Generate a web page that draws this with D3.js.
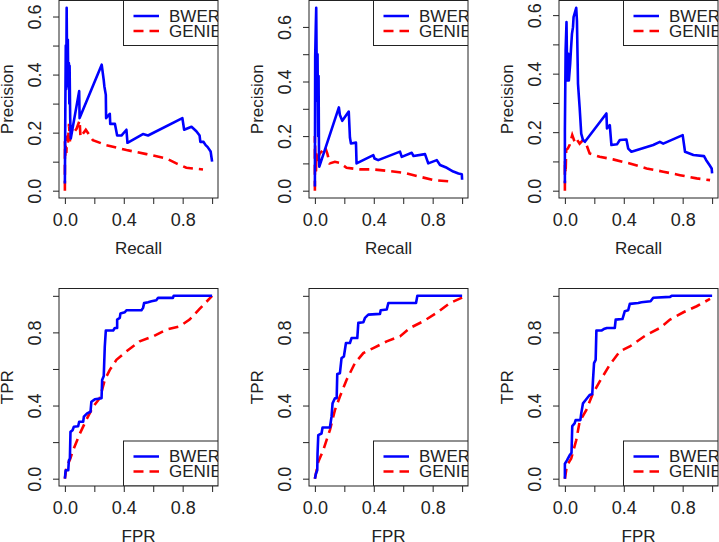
<!DOCTYPE html>
<html lang="en">
<head>
<meta charset="UTF-8">
<title>BWER vs GENIE</title>
<style>
  body { margin: 0; background: #fff; }
  svg { display: block; font-family: "Liberation Sans", Arial, sans-serif; }
  .axis path.domain { display: none; }
  .axis line { stroke: #222; }
  .axis text { fill: #222; font-size: 18px; font-family: "Liberation Sans", Arial, sans-serif; }
  .frame { fill: none; stroke: #222; stroke-width: 1; }
  .title { fill: #222; font-size: 17px; text-anchor: middle; }
  .bwer { fill: none; stroke: #0000ff; stroke-width: 2.6; stroke-linejoin: round; }
  .genie { fill: none; stroke: #ff0000; stroke-width: 2.6; stroke-dasharray: 10,6; }
  .legend rect { fill: #fff; stroke: #222; }
  .legend text { font-size: 17px; fill: #222; }
</style>
</head>
<body>
<svg width="719" height="542"></svg>

<script src="https://d3js.org/d3.v7.min.js"></script>
<script>
  // precision / recall curves, [recall, precision]
  const prBwer1 = [[0,0.025],[0.003,0.28],[0.006,0.5],[0.009,0.35],[0.012,0.63],[0.016,0.37],[0.02,0.52],[0.023,0.36],[0.027,0.44],[0.03,0.3],[0.032,0.43],[0.036,0.25],[0.04,0.18],[0.097,0.343],[0.1,0.25],[0.25,0.434],[0.264,0.38],[0.268,0.36],[0.278,0.33],[0.28,0.25],[0.305,0.265],[0.308,0.23],[0.34,0.23],[0.355,0.19],[0.384,0.19],[0.418,0.21],[0.425,0.165],[0.53,0.195],[0.565,0.19],[0.798,0.25],[0.81,0.21],[0.86,0.22],[0.893,0.205],[0.915,0.19],[0.92,0.168],[0.942,0.168],[0.956,0.157],[0.97,0.15],[0.99,0.135],[1.0,0.1]];
  const prGenie1 = [[0,0],[0,0.17],[0.003,0.12],[0.006,0.16],[0.01,0.13],[0.015,0.19],[0.02,0.16],[0.028,0.23],[0.034,0.17],[0.04,0.225],[0.056,0.197],[0.08,0.214],[0.1,0.242],[0.106,0.185],[0.142,0.21],[0.19,0.174],[0.28,0.157],[0.418,0.14],[0.554,0.126],[0.69,0.111],[0.757,0.094],[0.825,0.079],[0.938,0.073]];

  const prBwer2 = [[0,0.015],[0.002,0.49],[0.006,0.6],[0.009,0.67],[0.014,0.33],[0.018,0.5],[0.022,0.2],[0.025,0.42],[0.028,0.12],[0.03,0.088],[0.163,0.305],[0.17,0.277],[0.186,0.256],[0.23,0.29],[0.238,0.195],[0.245,0.173],[0.279,0.176],[0.283,0.10],[0.397,0.13],[0.405,0.118],[0.43,0.112],[0.578,0.143],[0.59,0.124],[0.658,0.139],[0.67,0.127],[0.748,0.134],[0.77,0.10],[0.828,0.112],[0.85,0.094],[0.896,0.084],[0.94,0.07],[0.975,0.063],[0.998,0.06],[1.0,0.04]];
  const prGenie2 = [[0,0],[0,0.2],[0.007,0.06],[0.01,0.137],[0.015,0.1],[0.02,0.12],[0.034,0.137],[0.057,0.149],[0.068,0.161],[0.084,0.137],[0.09,0.124],[0.1,0.1],[0.136,0.106],[0.17,0.102],[0.215,0.084],[0.306,0.078],[0.397,0.078],[0.487,0.073],[0.6,0.066],[0.714,0.051],[0.805,0.039],[0.94,0.033]];

  const prBwer3 = [[0,0.025],[0,0.207],[0.005,0.48],[0.011,0.576],[0.016,0.377],[0.023,0.468],[0.027,0.377],[0.036,0.434],[0.041,0.48],[0.048,0.536],[0.055,0.559],[0.059,0.593],[0.077,0.625],[0.082,0.58],[0.089,0.366],[0.1,0.286],[0.111,0.195],[0.123,0.173],[0.136,0.167],[0.282,0.264],[0.286,0.213],[0.305,0.224],[0.316,0.156],[0.355,0.159],[0.373,0.173],[0.418,0.175],[0.43,0.144],[0.452,0.133],[0.6,0.156],[0.645,0.167],[0.668,0.161],[0.8,0.19],[0.816,0.133],[0.873,0.122],[0.945,0.118],[0.959,0.105],[0.982,0.0875],[0.997,0.076],[1.0,0.059]];
  const prGenie3 = [[0,0],[0,0.105],[0.005,0.06],[0.009,0.139],[0.02,0.144],[0.032,0.156],[0.05,0.19],[0.066,0.167],[0.077,0.178],[0.1,0.161],[0.123,0.173],[0.145,0.159],[0.168,0.127],[0.236,0.116],[0.327,0.107],[0.441,0.093],[0.555,0.076],[0.668,0.065],[0.782,0.053],[0.895,0.042],[0.986,0.036]];

  // ROC curves, [FPR, TPR]
  const rocBwer1 = [[0,0],[0.005,0.046],[0.023,0.046],[0.027,0.1],[0.034,0.11],[0.038,0.256],[0.052,0.265],[0.061,0.284],[0.09,0.287],[0.097,0.311],[0.124,0.311],[0.129,0.339],[0.151,0.357],[0.174,0.366],[0.18,0.421],[0.203,0.434],[0.249,0.44],[0.253,0.54],[0.264,0.562],[0.271,0.723],[0.278,0.81],[0.328,0.81],[0.339,0.824],[0.355,0.824],[0.355,0.87],[0.373,0.879],[0.377,0.903],[0.407,0.91],[0.418,0.921],[0.52,0.921],[0.531,0.934],[0.538,0.96],[0.565,0.965],[0.588,0.97],[0.621,0.976],[0.633,0.989],[0.734,0.989],[0.739,1.0],[1.0,1.0]];
  const rocGenie1 = [[0,0],[0.011,0.064],[0.034,0.104],[0.056,0.156],[0.102,0.247],[0.147,0.324],[0.192,0.394],[0.237,0.44],[0.271,0.54],[0.305,0.595],[0.35,0.65],[0.418,0.696],[0.508,0.751],[0.599,0.778],[0.689,0.815],[0.78,0.833],[0.847,0.87],[0.915,0.928],[1.0,1.0]];

  const rocBwer2 = [[0,0],[0.007,0.027],[0.016,0.046],[0.018,0.137],[0.023,0.238],[0.045,0.247],[0.052,0.28],[0.102,0.28],[0.113,0.339],[0.12,0.412],[0.136,0.44],[0.148,0.44],[0.152,0.573],[0.17,0.577],[0.181,0.659],[0.197,0.668],[0.211,0.742],[0.238,0.742],[0.249,0.769],[0.288,0.769],[0.295,0.852],[0.329,0.855],[0.34,0.879],[0.363,0.897],[0.442,0.901],[0.447,0.921],[0.488,0.925],[0.499,0.961],[0.687,0.961],[0.696,1.0],[1.0,1.0]];
  const rocGenie2 = [[0,0],[0.023,0.092],[0.057,0.156],[0.102,0.266],[0.136,0.375],[0.17,0.449],[0.215,0.54],[0.272,0.632],[0.329,0.687],[0.397,0.714],[0.488,0.751],[0.578,0.778],[0.646,0.824],[0.737,0.861],[0.828,0.907],[0.918,0.961],[1.0,0.99]];

  const rocBwer3 = [[0,0],[0,0.082],[0.014,0.1],[0.032,0.128],[0.045,0.141],[0.048,0.229],[0.05,0.287],[0.066,0.302],[0.073,0.32],[0.105,0.32],[0.111,0.357],[0.123,0.412],[0.141,0.43],[0.168,0.458],[0.186,0.463],[0.191,0.54],[0.198,0.632],[0.209,0.65],[0.214,0.81],[0.248,0.81],[0.264,0.818],[0.286,0.824],[0.339,0.824],[0.345,0.87],[0.391,0.873],[0.407,0.916],[0.43,0.921],[0.441,0.956],[0.498,0.961],[0.52,0.965],[0.582,0.97],[0.6,0.989],[0.714,0.994],[0.725,1.0],[1.0,1.0]];
  const rocGenie3 = [[0,0],[0.014,0.073],[0.043,0.11],[0.077,0.21],[0.1,0.311],[0.145,0.375],[0.191,0.467],[0.236,0.531],[0.305,0.623],[0.373,0.696],[0.441,0.723],[0.555,0.787],[0.645,0.824],[0.714,0.87],[0.805,0.91],[0.895,0.943],[0.986,0.983]];

  const seriesNames = ["BWER", "GENIE"];
  const xTicks = [0, 0.2, 0.4, 0.6, 0.8, 1.0];
  const xTickLabels = ["0.0", "", "0.4", "", "0.8", ""];
  const prYTicks = [0, 0.1, 0.2, 0.3, 0.4, 0.5, 0.6];
  const prYTickLabels = ["0.0", "", "0.2", "", "0.4", "", "0.6"];
  const rocYTicks = [0, 0.2, 0.4, 0.6, 0.8, 1.0];
  const rocYTickLabels = ["0.0", "", "0.4", "", "0.8", ""];
  const prYMax = [0.63, 0.67, 0.625];

  const svg = d3.select("svg");
  const plotW = 159;

  const panels = [
    { bwer: prBwer1, genie: prGenie1, ymax: prYMax[0], row: 0, col: 0 },
    { bwer: prBwer2, genie: prGenie2, ymax: prYMax[1], row: 0, col: 1 },
    { bwer: prBwer3, genie: prGenie3, ymax: prYMax[2], row: 0, col: 2 },
    { bwer: rocBwer1, genie: rocGenie1, ymax: 1, row: 1, col: 0 },
    { bwer: rocBwer2, genie: rocGenie2, ymax: 1, row: 1, col: 1 },
    { bwer: rocBwer3, genie: rocGenie3, ymax: 1, row: 1, col: 2 }
  ];

  panels.forEach((p, i) => {
    const left = 59 + p.col * 250;
    const top = p.row === 0 ? 0.5 : 288.5;
    const bottom = p.row === 0 ? 198 : 486;
    const pr = p.row === 0;

    // R style 4% padding on both ends
    const x = d3.scaleLinear().domain([-0.04, 1.04]).range([left, left + plotW]);
    const y = d3.scaleLinear().domain([-0.04 * p.ymax, 1.04 * p.ymax]).range([bottom, top]);

    const clipId = "clip" + i;
    svg.append("clipPath").attr("id", clipId)
      .append("rect")
      .attr("x", left).attr("y", top)
      .attr("width", plotW).attr("height", bottom - top);

    const g = svg.append("g");

    // axes
    g.append("g")
      .attr("class", "axis")
      .attr("transform", `translate(0,${bottom})`)
      .call(d3.axisBottom(x).tickValues(xTicks).tickSize(6).tickSizeOuter(0)
        .tickFormat((d, k) => xTickLabels[k]))
      .selectAll("text")
      .attr("y", 21.5).attr("dy", "0.35em");

    const yt = pr ? prYTicks : rocYTicks;
    const yl = pr ? prYTickLabels : rocYTickLabels;
    g.append("g")
      .attr("class", "axis")
      .attr("transform", `translate(${left},0)`)
      .call(d3.axisLeft(y).tickValues(yt).tickSize(6).tickSizeOuter(0)
        .tickFormat((d, k) => yl[k]))
      .selectAll("text")
      .attr("transform", "rotate(-90)")
      .attr("x", 0).attr("y", -24).attr("dy", "0.35em")
      .attr("text-anchor", "middle");

    // curves
    const line = d3.line().x(d => x(d[0])).y(d => y(d[1]));
    const curves = g.append("g").attr("clip-path", `url(#${clipId})`);
    curves.append("path").attr("class", "genie").attr("d", line(p.genie));
    curves.append("path").attr("class", "bwer").attr("d", line(p.bwer));

    // legend, clipped by the plot region like R does
    const legTop = pr ? top : bottom - 45;
    const leg = g.append("g").attr("class", "legend").attr("clip-path", `url(#${clipId})`);
    leg.append("rect")
      .attr("x", left + 64.5).attr("y", legTop)
      .attr("width", 140).attr("height", 45);
    seriesNames.forEach((name, k) => {
      const ly = legTop + 15.5 + k * 15;
      leg.append("line")
        .attr("class", k === 0 ? "bwer" : "genie")
        .attr("x1", left + 74.5).attr("x2", left + 100)
        .attr("y1", ly).attr("y2", ly);
      leg.append("text")
        .attr("x", left + 110).attr("y", ly).attr("dy", "0.35em")
        .text(name);
    });

    // frame
    g.append("rect").attr("class", "frame")
      .attr("x", left).attr("y", top)
      .attr("width", plotW).attr("height", bottom - top);

    // axis titles
    g.append("text").attr("class", "title")
      .attr("x", left + plotW / 2).attr("y", bottom + 50.5).attr("dy", "0.35em")
      .text(pr ? "Recall" : "FPR");
    g.append("text").attr("class", "title")
      .attr("transform", `translate(${left - 51.5},${(top + bottom) / 2}) rotate(-90)`)
      .attr("dy", "0.35em")
      .text(pr ? "Precision" : "TPR");
  });
</script>
</body>
</html>
